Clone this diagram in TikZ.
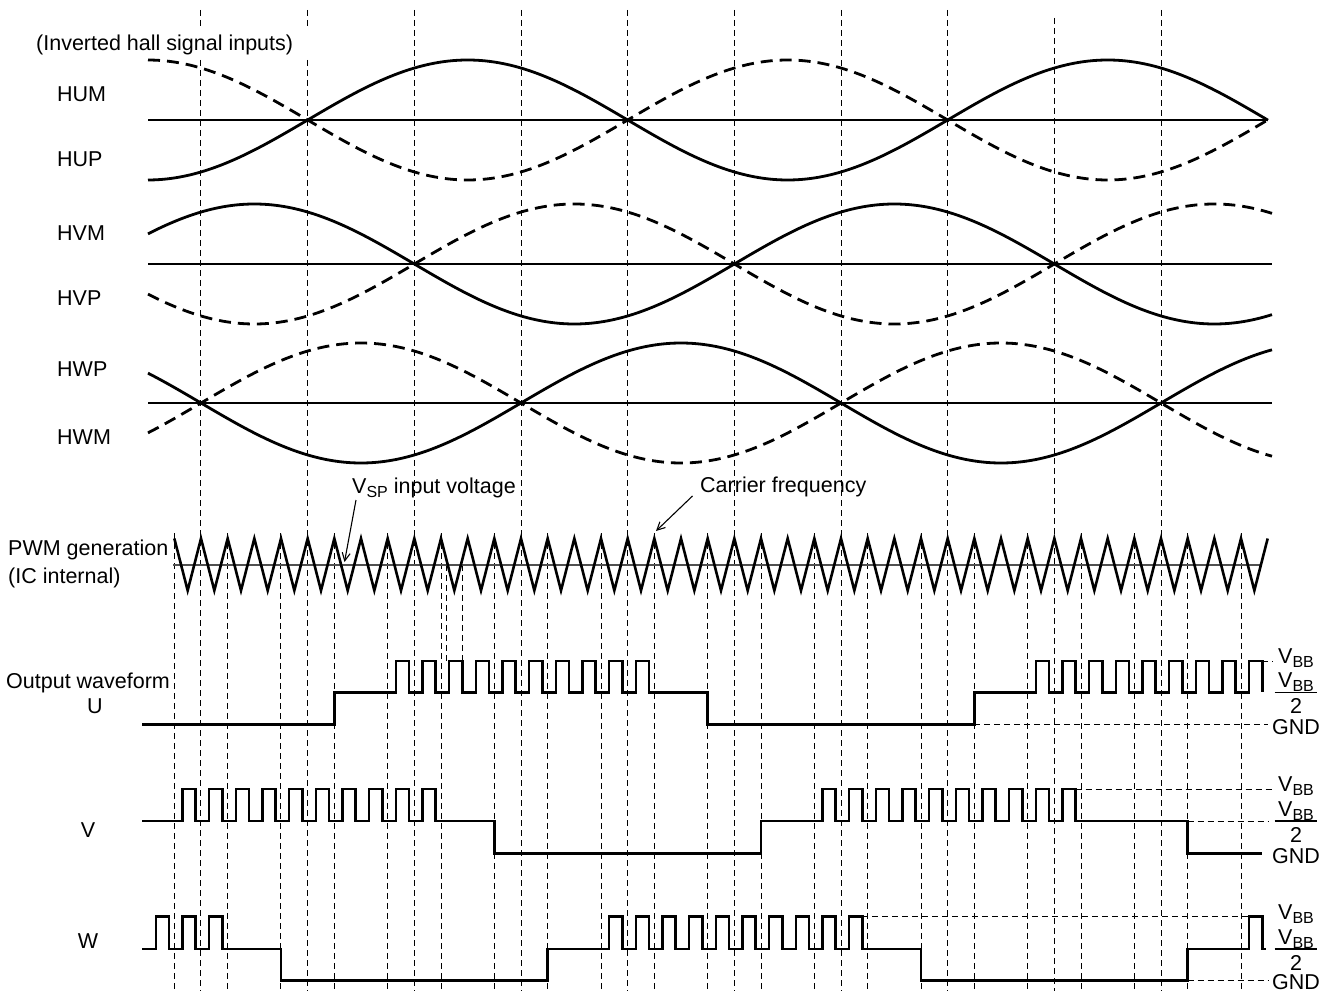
\documentclass[tikz,border=0pt]{standalone}
\usepackage{fontspec}
\setmainfont{Liberation Sans}
\usetikzlibrary{arrows.meta}
\newcommand\vsub[1]{\raisebox{-4pt}{\fontsize{16}{16}\selectfont #1}}
\newcommand\outlvls[5]{%
  \node[lbl,anchor=base] (#1top) at (1296,#2+2.5) {V\vsub{BB}};
  \node[lbl,anchor=base] (#1num) at (1296,#3-5) {V\vsub{BB}};
  \draw[line width=1.2pt] (1274.5,#3) -- (1317,#3);
  \node[lbl,anchor=base] (#1two) at (1296,#3+21) {2};
  \node[lbl,anchor=base] (#1gnd) at (1296,#4+#5) {GND};
}
\begin{document}
\begin{tikzpicture}[x=1pt,y=-1pt,
  declare function={xt(\q)=174.333+26.6667*\q; xg(\q)=floor(174.333+26.6667*\q)+0.5; pa(\q)=174.333+26.6667*(\q+0.305); pb(\q)=174.333+26.6667*(\q+0.795);},
  wave/.style={line width=2.6pt, line join=miter},
  hallsolid/.style={line width=2.8pt},
  halldash/.style={line width=2.8pt, dash pattern=on 12pt off 7pt},
  gridline/.style={line width=1pt, dash pattern=on 6pt off 4pt},
  refdash/.style={line width=1pt, dash pattern=on 6pt off 4pt},
  axisline/.style={line width=1.2pt},
  lbl/.style={inner sep=0pt, font=\fontsize{21.5}{24}\selectfont},
  arr/.style={line width=1.1pt, -{Straight Barb[length=8pt,width=8pt]}},
]
\useasboundingbox (0,0) rectangle (1330,992);
\fill[white] (0,0) rectangle (1330,992);

% ---------- dashed vertical grid ----------
\foreach \k in {1,5}{
  \draw[gridline] ({xg(\k)},10) -- ({xg(\k)},29);
  \draw[gridline] ({xg(\k)},60) -- ({xg(\k)},991);
}
\foreach \k/\s in {9/10,13/10,17/10,21/10,25/10,29/10,33/18,37/10}
  \draw[gridline] ({xg(\k)},\s) -- ({xg(\k)},991);
\foreach \k in {0,2,...,40}
  \draw[gridline] ({xg(\k)},533) -- ({xg(\k)},991);
\draw[gridline] (446.5,565) -- (446.5,661);
\draw[gridline] (462.5,565) -- (462.5,661);

% ---------- hall signals ----------
\node[lbl,anchor=base west] (title) at (36,51) {(Inverted hall signal inputs)};
\node[lbl,anchor=base west] (hum) at (57,101.7) {HUM};
\node[lbl,anchor=base west] (hup) at (57,166.5) {HUP};
\node[lbl,anchor=base west] (hvm) at (57,240.5) {HVM};
\node[lbl,anchor=base west] (hvp) at (57,305.5) {HVP};
\node[lbl,anchor=base west] (hwp) at (57,376.5) {HWP};
\node[lbl,anchor=base west] (hwm) at (57,444.5) {HWM};

\draw[axisline] (148,120) -- (1268,120);
\draw[axisline] (148,264) -- (1272,264);
\draw[axisline] (148,403) -- (1272,403);

\draw[hallsolid] plot[domain=148:1268,samples=300,smooth] (\x,{120-60*sin((\x-307.667)*0.5625)});
\draw[halldash]  plot[domain=148:1268,samples=300,smooth] (\x,{120+60*sin((\x-307.667)*0.5625)});
\draw[hallsolid] plot[domain=148:1272,samples=300,smooth] (\x,{264-60*cos((\x-254.333)*0.5625)});
\draw[halldash]  plot[domain=148:1272,samples=300,smooth] (\x,{264+60*cos((\x-254.333)*0.5625)});
\draw[hallsolid] plot[domain=148:1272,samples=300,smooth] (\x,{403+60*sin((\x-201)*0.5625)});
\draw[halldash]  plot[domain=148:1272,samples=300,smooth] (\x,{403-60*sin((\x-201)*0.5625)});

% ---------- PWM generation ----------
\node[lbl,anchor=base west] (pwm) at (8,555) {PWM generation};
\node[lbl,anchor=base west] (icint) at (8,583) {(IC internal)};

\draw[line width=2pt, color={rgb,255:red,80;green,80;blue,80}] (173,565) -- (1261,565);
\draw[wave] ({xt(0)},538.5) \foreach \n in {0,...,40}{ -- ({xt(\n+0.5)},590.5) -- ({xt(\n+1)},538.5) };

\node[lbl,anchor=base west] (vsplbl) at (352,493) {V\vsub{SP} input voltage};
\coordinate (vspfrom) at (356,500);
\coordinate (vspto) at (344.5,562);
\draw[arr] (vspfrom) -- (vspto);
\node[lbl,anchor=base west] (carlbl) at (700,492.7) {Carrier frequency};
\coordinate (carfrom) at (692.5,496);
\coordinate (carto) at (656,531);
\draw[arr] (carfrom) -- (carto);

% ---------- outputs ----------
\node[lbl,anchor=base west] (outlbl) at (6,688) {Output waveform};
\node[lbl,anchor=base] (ulbl) at (95,713) {U};
\node[lbl,anchor=base] (vlbl) at (88,837) {V};
\node[lbl,anchor=base] (wlbl) at (88,948) {W};

% reference dashed levels
\draw[refdash] (1262,661) -- (1273,661);
\draw[refdash] ({xt(30)},724.5) -- (1268,724.5);
\draw[refdash] ({pb(33)},789.5) -- (1272,789.5);
\draw[refdash] ({xt(38)},821.5) -- (1268,821.5);
\draw[refdash] ({pb(25)},916.5) -- ({pa(40)},916.5);
\draw[refdash] ({xt(38)},980.5) -- (1268,980.5);

% U
\draw[wave] (142,724.3) -- ({xt(6)},724.3) -- ({xt(6)},692.3)
  \foreach \n in {8,...,17}{ -- ({pa(\n)},692.3) -- ({pa(\n)},661) -- ({pb(\n)},661) -- ({pb(\n)},692.3) }
  -- ({xt(20)},692.3) -- ({xt(20)},724.3) -- ({xt(30)},724.3) -- ({xt(30)},692.3)
  \foreach \n in {32,...,40}{ -- ({pa(\n)},692.3) -- ({pa(\n)},661) -- ({pb(\n)},661) -- ({pb(\n)},692.3) };

% V
\draw[wave] (142,821)
  \foreach \n in {0,...,9}{ -- ({pa(\n)},821) -- ({pa(\n)},789) -- ({pb(\n)},789) -- ({pb(\n)},821) }
  -- ({xt(12)},821) -- ({xt(12)},853.3) -- ({xt(22)},853.3) -- ({xt(22)},821)
  \foreach \n in {24,...,33}{ -- ({pa(\n)},821) -- ({pa(\n)},789) -- ({pb(\n)},789) -- ({pb(\n)},821) }
  -- ({xt(38)},821) -- ({xt(38)},853.3) -- (1261.7,853.3);

% W
\draw[wave] (142,949)
  \foreach \n in {-1,0,1}{ -- ({pa(\n)},949) -- ({pa(\n)},916.7) -- ({pb(\n)},916.7) -- ({pb(\n)},949) }
  -- ({xt(4)},949) -- ({xt(4)},980.7) -- ({xt(14)},980.7) -- ({xt(14)},949)
  \foreach \n in {16,...,25}{ -- ({pa(\n)},949) -- ({pa(\n)},916.7) -- ({pb(\n)},916.7) -- ({pb(\n)},949) }
  -- ({xt(28)},949) -- ({xt(28)},980.7) -- ({xt(38)},980.7) -- ({xt(38)},949)
  -- ({pa(40)},949) -- ({pa(40)},916.7) -- ({pb(40)},916.7) -- ({pb(40)},949) -- (1266,949);

% level labels
\outlvls{u}{661}{692.3}{724.3}{10}
\outlvls{v}{789}{821}{853.3}{10}
\outlvls{w}{916.7}{949}{980.7}{8.5}
\end{tikzpicture}
\end{document}
